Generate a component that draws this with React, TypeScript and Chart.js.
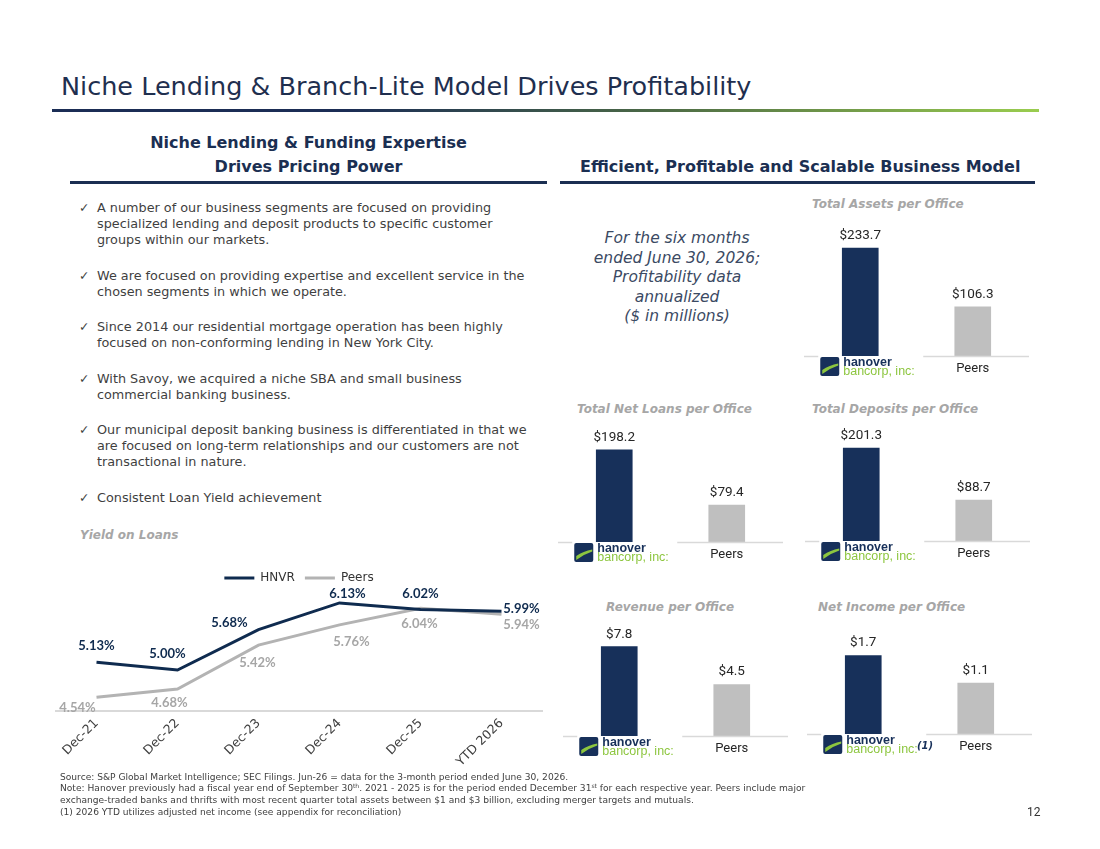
import React, { useEffect, useRef } from "react";
import { Chart, registerables } from "chart.js";

Chart.register(...registerables);

// ---------------- data ----------------
const yieldLabels = ["Dec-21", "Dec-22", "Dec-23", "Dec-24", "Dec-25", "YTD 2026"];
const seriesNames = ["HNVR", "Peers"];
const hnvrYield = [5.13, 5.0, 5.68, 6.13, 6.02, 5.99];
const peersYield = [4.54, 4.68, 5.42, 5.76, 6.04, 5.94];

const barLabels = ["hanover bancorp, inc.", "Peers"];
const assetsPerOffice = [233.7, 106.3];
const loansPerOffice = [198.2, 79.4];
const depositsPerOffice = [201.3, 88.7];
const revenuePerOffice = [7.8, 4.5];
const netIncomePerOffice = [1.7, 1.1];

// ---------------- styles ----------------
const NAVY = "#1b2f52";
const BAR_NAVY = "#17305a";
const BAR_GRAY = "#bfbfbf";
const LINE_NAVY = "#0f2b4f";
const LINE_GRAY = "#b3b3b3";
const LABEL_GRAY = "#a6a6a6";
const GREEN = "#8dc63f";
const BODY = "#3f3f3f";
const DEJAVU = "'DejaVu Sans', sans-serif";

// label nudges (label centre relative to its point), style only
const HNVR_NUDGE: [number, number][] = [[0, -16], [-10, -16], [-29, -7], [8, -9], [0, -16], [20, -2]];
const PEERS_NUDGE: [number, number][] = [[-19, 10], [-8, 14], [-1, 18], [12, 17], [-1, 16], [20, 11]];

const lineLabelPlugin = {
  id: "lineLabels",
  afterDatasetsDraw(chart: any) {
    const ctx = chart.ctx;
    chart.data.datasets.forEach((ds: any, di: number) => {
      const meta = chart.getDatasetMeta(di);
      const nudges = di === 0 ? HNVR_NUDGE : PEERS_NUDGE;
      ctx.save();
      ctx.font = "bold 13px Lato, sans-serif";
      ctx.fillStyle = di === 0 ? LINE_NAVY : LABEL_GRAY;
      ctx.textAlign = "center";
      ctx.textBaseline = "middle";
      meta.data.forEach((pt: any, i: number) => {
        const [dx, dy] = nudges[i];
        ctx.fillText(Number(ds.data[i]).toFixed(2) + "%", pt.x + dx, pt.y + dy);
      });
      ctx.restore();
    });
  },
};

function drawLogo(ctx: CanvasRenderingContext2D, cx: number, axisY: number) {
  const x = cx - 40;
  const y = axisY + 1;
  const s = 19;
  ctx.save();
  ctx.fillStyle = BAR_NAVY;
  ctx.beginPath();
  const r = 2;
  ctx.moveTo(x + r, y);
  ctx.lineTo(x + s - r, y);
  ctx.quadraticCurveTo(x + s, y, x + s, y + r);
  ctx.lineTo(x + s, y + s - r);
  ctx.quadraticCurveTo(x + s, y + s, x + s - r, y + s);
  ctx.lineTo(x + r, y + s);
  ctx.quadraticCurveTo(x, y + s, x, y + s - r);
  ctx.lineTo(x, y + r);
  ctx.quadraticCurveTo(x, y, x + r, y);
  ctx.fill();
  ctx.fillStyle = GREEN;
  ctx.beginPath();
  ctx.moveTo(x + 2, y + 13);
  ctx.quadraticCurveTo(x + 9, y + 8, x + 18, y + 6.5);
  ctx.lineTo(x + 18, y + 8.5);
  ctx.quadraticCurveTo(x + 10, y + 11, x + 2, y + 17);
  ctx.closePath();
  ctx.fill();
  ctx.textAlign = "left";
  ctx.textBaseline = "alphabetic";
  ctx.fillStyle = BAR_NAVY;
  ctx.font = "bold 12.5px 'Liberation Sans', Arial, sans-serif";
  ctx.fillText("hanover", x + 23, axisY + 10);
  ctx.fillStyle = GREEN;
  ctx.font = "12.5px 'Liberation Sans', Arial, sans-serif";
  ctx.fillText("bancorp, inc:", x + 23, axisY + 19);
  ctx.restore();
}

const barDecorPlugin = {
  id: "barDecor",
  afterDatasetsDraw(chart: any) {
    const ctx = chart.ctx;
    const area = chart.chartArea;
    const xs = chart.scales.x;
    const ds = chart.data.datasets[0];
    const meta = chart.getDatasetMeta(0);
    const axisY = area.bottom;
    const c0 = xs.getPixelForValue(0);
    const c1 = xs.getPixelForValue(1);
    ctx.save();
    // baseline (interrupted by the logo)
    ctx.strokeStyle = "#d9d9d9";
    ctx.lineWidth = 1.5;
    ctx.beginPath();
    ctx.moveTo(area.left, axisY + 0.5);
    ctx.lineTo(c0 - 42, axisY + 0.5);
    ctx.moveTo(c0 + 63, axisY + 0.5);
    ctx.lineTo(area.right, axisY + 0.5);
    ctx.stroke();
    // value labels
    ctx.fillStyle = "#262626";
    ctx.font = "13.5px Roboto, sans-serif";
    ctx.textAlign = "center";
    ctx.textBaseline = "middle";
    meta.data.forEach((bar: any, i: number) => {
      ctx.fillText("$" + Number(ds.data[i]).toFixed(1), bar.x, bar.y - 12.5);
    });
    // category label
    ctx.font = "13px Roboto, sans-serif";
    ctx.fillText(String(chart.data.labels[1]), c1, axisY + 13);
    ctx.restore();
    drawLogo(ctx, c0, axisY);
  },
};

const PLOT_W = 225;
const PLOT_H = 130;
const PAD_T = 36;
const PAD_B = 30;

function BarPanel(props: { values: number[]; left: number; axisY: number; ppu: number }) {
  const ref = useRef<HTMLCanvasElement | null>(null);
  const { values, left, axisY, ppu } = props;
  useEffect(() => {
    if (!ref.current) return;
    const chart = new Chart(ref.current, {
      type: "bar",
      data: {
        labels: barLabels,
        datasets: [{ data: values, backgroundColor: [BAR_NAVY, BAR_GRAY], barThickness: 36 }],
      },
      options: {
        responsive: false,
        animation: false,
        events: [],
        layout: { padding: { top: PAD_T, bottom: PAD_B, left: 0, right: 0 } },
        plugins: { legend: { display: false }, tooltip: { enabled: false } },
        scales: {
          x: { display: false },
          y: { display: false, min: 0, max: PLOT_H / ppu },
        },
      },
      plugins: [barDecorPlugin],
    } as any);
    return () => chart.destroy();
  }, []);
  const h = PAD_T + PLOT_H + PAD_B;
  return (
    <canvas
      ref={ref}
      width={PLOT_W}
      height={h}
      style={{ position: "absolute", left, top: axisY - PLOT_H - PAD_T, width: PLOT_W, height: h }}
    />
  );
}

function YieldChart() {
  const ref = useRef<HTMLCanvasElement | null>(null);
  useEffect(() => {
    if (!ref.current) return;
    const chart = new Chart(ref.current, {
      type: "line",
      data: {
        labels: yieldLabels,
        datasets: [
          {
            label: seriesNames[0],
            data: hnvrYield,
            borderColor: LINE_NAVY,
            backgroundColor: LINE_NAVY,
            pointBorderColor: LINE_NAVY,
            pointBackgroundColor: LINE_NAVY,
            borderWidth: 3,
            pointBorderWidth: 3,
            pointRadius: 0,
            tension: 0,
          },
          {
            label: seriesNames[1],
            data: peersYield,
            borderColor: LINE_GRAY,
            backgroundColor: LINE_GRAY,
            pointBorderColor: LINE_GRAY,
            pointBackgroundColor: LINE_GRAY,
            borderWidth: 3,
            pointBorderWidth: 3,
            pointRadius: 0,
            tension: 0,
          },
        ],
      },
      options: {
        responsive: false,
        animation: false,
        events: [],
        layout: { padding: { left: 16, right: 13, top: 0, bottom: 0 } },
        plugins: {
          tooltip: { enabled: false },
          legend: {
            display: true,
            position: "top",
            labels: {
              usePointStyle: true,
              pointStyle: "line",
              pointStyleWidth: 30,
              color: "#333333",
              padding: 10,
              font: { family: "DejaVu Sans", size: 12 },
            },
          },
        },
        scales: {
          x: {
            offset: true,
            grid: { display: false, drawTicks: false },
            border: { display: true, color: "#d9d9d9", width: 2 },
            ticks: {
              autoSkip: false,
              maxRotation: 45,
              minRotation: 45,
              padding: 5,
              color: "#404040",
              font: { family: "DejaVu Sans", size: 12.5 },
            },
            afterFit: (s: any) => {
              s.height = 62;
            },
          },
          y: { display: false, min: 4.31, max: 6.28 },
        },
      },
      plugins: [lineLabelPlugin],
    } as any);
    return () => chart.destroy();
  }, []);
  return (
    <canvas
      ref={ref}
      width={515}
      height={211}
      style={{ position: "absolute", left: 40, top: 562, width: 515, height: 211 }}
    />
  );
}

const abs = (left: number, top: number, extra: React.CSSProperties = {}): React.CSSProperties => ({
  position: "absolute",
  left,
  top,
  whiteSpace: "nowrap",
  ...extra,
});

const bullets: string[][] = [
  [
    "A number of our business segments are focused on providing",
    "specialized lending and deposit products to specific customer",
    "groups within our markets.",
  ],
  ["We are focused on providing expertise and excellent service in the", "chosen segments in which we operate."],
  ["Since 2014 our residential mortgage operation has been highly", "focused on non-conforming lending in New York City."],
  ["With Savoy, we acquired a niche SBA and small business", "commercial banking business."],
  [
    "Our municipal deposit banking business is differentiated in that we",
    "are focused on long-term relationships and our customers are not",
    "transactional in nature.",
  ],
  ["Consistent Loan Yield achievement"],
];

const chartTitle: React.CSSProperties = {
  fontFamily: DEJAVU,
  fontWeight: "bold",
  fontStyle: "italic",
  fontSize: 12,
  lineHeight: "16px",
  color: LABEL_GRAY,
};

const sup: React.CSSProperties = { fontSize: 6, position: "relative", top: -3 };

export default function App() {
  return (
    <div
      style={{
        position: "absolute",
        left: 0,
        top: 0,
        width: 1100,
        height: 849,
        background: "#ffffff",
        overflow: "hidden",
        fontFamily: DEJAVU,
      }}
    >
      {/* main title */}
      <div style={abs(61, 71, { fontSize: 25.5, lineHeight: "30px", color: "#1f2f4f" })}>
        Niche Lending &amp; Branch-Lite Model Drives Profitability
      </div>
      <div
        style={{
          position: "absolute",
          left: 52,
          top: 109,
          width: 987,
          height: 3,
          background: "linear-gradient(to right, #1b2d55 0%, #1b2d55 30%, #4d6b45 62%, #9acd4f 100%)",
        }}
      />

      {/* left header */}
      <div
        style={abs(70, 131, {
          width: 477,
          textAlign: "center",
          fontWeight: "bold",
          fontSize: 16,
          lineHeight: "24px",
          color: NAVY,
        })}
      >
        Niche Lending &amp; Funding Expertise
        <br />
        Drives Pricing Power
      </div>
      <div style={{ position: "absolute", left: 70, top: 181, width: 477, height: 3, background: NAVY }} />

      {/* right header */}
      <div style={abs(580, 155, { fontWeight: "bold", fontSize: 16, lineHeight: "24px", color: NAVY })}>
        Efficient, Profitable and Scalable Business Model
      </div>
      <div style={{ position: "absolute", left: 560, top: 181, width: 475, height: 3, background: NAVY }} />

      {/* bullets */}
      <div style={abs(80, 200, { fontSize: 12.8, lineHeight: "16px", color: BODY })}>
        {bullets.map((lines, i) => (
          <div key={i} style={{ position: "relative", paddingLeft: 17, marginBottom: 19.5 }}>
            <span style={{ position: "absolute", left: -1, top: 0, fontSize: 12.5 }}>✓</span>
            {lines.map((l, j) => (
              <div key={j}>{l}</div>
            ))}
          </div>
        ))}
      </div>

      {/* yield chart */}
      <div style={abs(80, 527, chartTitle)}>Yield on Loans</div>
      <YieldChart />

      {/* note */}
      <div
        style={abs(577, 229, {
          width: 200,
          textAlign: "center",
          fontStyle: "italic",
          fontSize: 15.5,
          lineHeight: "19.5px",
          color: "#3b4a63",
        })}
      >
        For the six months
        <br />
        ended June 30, 2026;
        <br />
        Profitability data
        <br />
        annualized
        <br />
        ($ in millions)
      </div>

      {/* bar chart titles */}
      <div style={abs(812, 196, chartTitle)}>Total Assets per Office</div>
      <div style={abs(577, 401, chartTitle)}>Total Net Loans per Office</div>
      <div style={abs(812, 401, chartTitle)}>Total Deposits per Office</div>
      <div style={abs(606, 599, chartTitle)}>Revenue per Office</div>
      <div style={abs(818, 599, chartTitle)}>Net Income per Office</div>

      <BarPanel values={assetsPerOffice} left={804} axisY={356} ppu={0.4615} />
      <BarPanel values={loansPerOffice} left={558} axisY={542} ppu={0.465} />
      <BarPanel values={depositsPerOffice} left={805} axisY={541} ppu={0.462} />
      <BarPanel values={revenuePerOffice} left={563} axisY={736} ppu={11.45} />
      <BarPanel values={netIncomePerOffice} left={807} axisY={734} ppu={46.2} />

      <div
        style={abs(917, 739, {
          fontSize: 10,
          fontWeight: "bold",
          fontStyle: "italic",
          lineHeight: "14px",
          color: BAR_NAVY,
        })}
      >
        (1)
      </div>

      {/* footnotes */}
      <div style={abs(60, 771.5, { fontSize: 9.1, lineHeight: "11.8px", color: "#404040" })}>
        <div>Source: S&amp;P Global Market Intelligence; SEC Filings. Jun-26 = data for the 3-month period ended June 30, 2026.</div>
        <div>
          Note: Hanover previously had a fiscal year end of September 30<span style={sup}>th</span>. 2021 - 2025 is for the
          period ended December 31<span style={sup}>st</span> for each respective year. Peers include major
        </div>
        <div>
          exchange-traded banks and thrifts with most recent quarter total assets between $1 and $3 billion, excluding
          merger targets and mutuals.
        </div>
        <div>(1) 2026 YTD utilizes adjusted net income (see appendix for reconciliation)</div>
      </div>

      <div style={abs(1027, 804, { fontFamily: "Roboto, sans-serif", fontSize: 12, lineHeight: "16px", color: "#333" })}>
        12
      </div>
    </div>
  );
}
